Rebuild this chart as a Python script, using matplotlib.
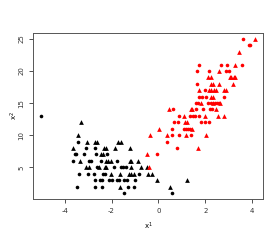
# plot.py
"""
Scatter of x^1 against x^2, two groups (black / red), circles and triangles.
"""
import matplotlib
matplotlib.use('Agg')
import matplotlib.pyplot as plt

# black group, circles
blk_circ_x = [-5.0, -3.43, -3.09, -2.70, -3.57, -3.52, -3.19, -2.65, -2.20,
              -3.63, -2.96, -2.89, -2.45, -1.76, -2.62, -1.89, -1.59, -1.52,
              -1.40, -3.40, -3.01, -2.75, -2.35, -2.28, -0.84, -2.70, -2.51,
              -2.41, -2.10, -1.99, -1.76, -1.69, -1.46, -1.36, -0.99, -3.48,
              -2.70, -2.41, -1.28, -1.05, -1.46, 0.57]
blk_circ_y = [13, 9, 8, 8, 7, 7, 7, 7, 7,
              6, 6, 6, 6, 6, 5, 5, 5, 5,
              5, 4, 4, 4, 4, 4, 4, 3, 3,
              3, 3, 3, 3, 3, 3, 3, 3, 2,
              2, 2, 2, 2, 1, 1]

# black group, triangles
blk_tri_x = [-3.32, -3.43, -3.06, -2.70, -2.62, -1.73, -1.59, -3.63, -2.31,
             -2.23, -1.84, -1.23, -2.45, -2.38, -3.36, -2.23, -2.14, -2.01,
             -1.21, -1.15, -0.89, -3.09, -2.96, -2.52, -2.28, -2.23, -1.18,
             -0.75, -0.48, -2.03, -1.66, -1.26, -1.16, -1.05, -0.43, -0.27,
             -0.04, 1.23, -1.62, 0.48]
blk_tri_y = [12, 10, 9, 9, 9, 9, 9, 8, 8,
             8, 8, 8, 7, 7, 6, 6, 6, 6,
             6, 6, 6, 5, 5, 5, 5, 5, 5,
             5, 5, 4, 4, 4, 4, 4, 4, 4,
             3, 3, 2, 2]

# red group, circles
red_circ_x = [-0.07, 0.37, 0.79, 0.57, 0.88, 1.40, 0.57, 1.09, 1.18, 1.28,
              1.35, 0.67, 0.84, 1.80, 2.00, 2.17, 0.88, 1.36, 1.48, 1.55,
              1.73, 0.61, 1.60, 1.90, 2.20, 2.30, 1.60, 1.69, 2.11, 2.23,
              2.43, 2.50, 2.58, 1.74, 1.86, 2.03, 2.78, 1.99, 1.63, 1.66,
              2.18, 2.87, 3.01, 1.72, 2.68, 2.91, 3.55, 3.87, 3.93, 3.63]
red_circ_y = [7, 9, 8, 10, 10, 10, 11, 11, 11, 11,
              11, 12, 12, 12, 12, 12, 13, 13, 13, 13,
              13, 14, 14, 14, 14, 14, 15, 15, 15, 15,
              15, 15, 15, 16, 16, 16, 16, 17, 18, 20,
              20, 20, 20, 21, 21, 21, 21, 24, 24, 25]

# red group, triangles
red_tri_x = [-0.48, -0.40, -0.37, 0.37, 1.18, 2.03, 0.03, 1.42, 1.15, 1.22,
             1.11, 2.01, 2.55, 2.78, 0.45, 1.38, 1.45, 2.47, 1.83, 2.35,
             2.64, 2.26, 2.35, 1.74, 2.17, 2.24, 2.37, 2.44, 2.78, 2.87,
             2.26, 2.35, 2.58, 3.18, 2.13, 2.23, 3.04, 3.12, 3.21, 3.29,
             2.58, 3.26, 3.43, 4.11, 1.70]
red_tri_y = [7, 5, 10, 10, 10, 10, 11, 11, 12, 12,
             13, 13, 13, 13, 14, 14, 14, 14, 15, 15,
             15, 16, 16, 17, 17, 17, 17, 17, 17, 17,
             18, 18, 18, 18, 19, 19, 19, 19, 19, 19,
             20, 21, 23, 25, 8]

x_ticks = [-4, -2, 0, 2, 4]
y_ticks = [5, 10, 15, 20, 25]


def r_range(values):
    """Axis range padded by 4% on each side, like R does."""
    lo, hi = min(values), max(values)
    pad = 0.04 * (hi - lo)
    return lo - pad, hi + pad


fig = plt.figure(figsize=(2.8, 2.4), dpi=100)
ax = fig.add_axes([0.117, 0.170, 0.823, 0.694])

ax.plot(blk_circ_x, blk_circ_y, 'o', color='black', ms=2.6, mew=0)
ax.plot(blk_tri_x, blk_tri_y, '^', color='black', ms=3.4, mew=0)
ax.plot(red_circ_x, red_circ_y, 'o', color='red', ms=2.6, mew=0)
ax.plot(red_tri_x, red_tri_y, '^', color='red', ms=3.4, mew=0)

all_x = blk_circ_x + blk_tri_x + red_circ_x + red_tri_x
all_y = blk_circ_y + blk_tri_y + red_circ_y + red_tri_y
ax.set_xlim(*r_range(all_x))
ax.set_ylim(*r_range(all_y))

ax.set_xticks(x_ticks)
ax.set_yticks(y_ticks)
ax.set_xticklabels([str(t) for t in x_ticks])
ax.set_yticklabels([str(t) for t in y_ticks], rotation=90, va='center')
ax.tick_params(length=3, width=0.6, pad=3, labelsize=5,
               colors='#333333')

for side in ax.spines.values():
    side.set_linewidth(0.7)
    side.set_color('#555555')

ax.set_xlabel(r'$\mathregular{x^1}$', fontsize=5, va='center')
ax.set_ylabel(r'$\mathregular{x^2}$', fontsize=5, va='center')
ax.xaxis.set_label_coords(0.5, -0.166)
ax.yaxis.set_label_coords(-0.081, 0.5)

fig.savefig('out.png', dpi=100)
